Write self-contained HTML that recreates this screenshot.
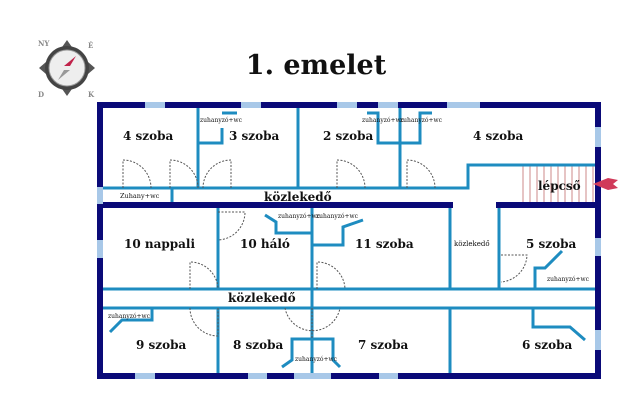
<!DOCTYPE html>
<html><head><meta charset="utf-8"><style>
html,body{margin:0;padding:0;background:#fff;width:640px;height:406px;overflow:hidden}
text{font-family:"DejaVu Serif","Liberation Serif",serif;font-weight:bold;fill:#111}
.s{font-size:6px;font-weight:normal}
</style></head><body>
<svg width="640" height="406" viewBox="0 0 640 406" xmlns="http://www.w3.org/2000/svg">
<text x="316" y="74" font-size="27" text-anchor="middle">1. emelet</text>
<!-- compass -->
<g>
<polygon points="67,40 74,50 95,68 74,86 67,96 60,86 39,68 60,50" fill="#555"/>
<circle cx="67" cy="68" r="22" fill="#444"/>
<circle cx="67" cy="68" r="18" fill="#eee" stroke="#999"/>
<polygon points="76,56 70,66 64,66" fill="#c0224a"/>
<polygon points="58,80 64,70 70,70" fill="#999"/>
<text x="38" y="46" font-size="7" style="fill:#888">NY</text>
<text x="88" y="48" font-size="7" style="fill:#888">É</text>
<text x="38" y="97" font-size="7" style="fill:#888">D</text>
<text x="88" y="97" font-size="7" style="fill:#888">K</text>
</g>
<!-- stairs -->
<g stroke="#c88" stroke-width="1">
<line x1="523" y1="166" x2="523" y2="204"/><line x1="530" y1="166" x2="530" y2="204"/><line x1="537" y1="166" x2="537" y2="204"/><line x1="544" y1="166" x2="544" y2="204"/><line x1="551" y1="166" x2="551" y2="204"/><line x1="558" y1="166" x2="558" y2="204"/><line x1="565" y1="166" x2="565" y2="204"/><line x1="572" y1="166" x2="572" y2="204"/><line x1="579" y1="166" x2="579" y2="204"/><line x1="586" y1="166" x2="586" y2="204"/><line x1="593" y1="166" x2="593" y2="204"/>
</g>
<!-- blue walls -->
<g stroke="#1e8cc0" stroke-width="3" fill="none">
<polyline points="100,188 468,188 468,165 600,165"/>
<line x1="198" y1="103" x2="198" y2="188"/>
<line x1="298" y1="103" x2="298" y2="188"/>
<line x1="400" y1="103" x2="400" y2="188"/>
<line x1="172" y1="188" x2="172" y2="205"/>
<polyline points="198,143 222,143 222,128"/><polyline points="222,113 237,113"/>
<polyline points="367,113 378,113 378,143 420,143 420,113 432,113"/>
<line x1="218" y1="205" x2="218" y2="290"/>
<line x1="218" y1="308" x2="218" y2="376"/>
<line x1="312" y1="205" x2="312" y2="376"/>
<line x1="450" y1="205" x2="450" y2="290"/>
<line x1="450" y1="308" x2="450" y2="376"/>
<line x1="499" y1="205" x2="499" y2="290"/>
<line x1="100" y1="289" x2="600" y2="289"/>
<line x1="100" y1="308" x2="600" y2="308"/>
<polyline points="535,290 535,268 545,268 562,251"/>
<polyline points="152,308 152,320 122,320 110,332"/>
<polyline points="533,308 533,327 570,327 585,340"/>
<polyline points="282,367 292,360 292,339 333,339 333,360 340,367"/>
<polyline points="265,215 276,222 276,233 312,233"/>
<polyline points="312,245 343,245 343,227 363,220"/>
</g>
<!-- doors -->
<g stroke="#555" stroke-width="1" fill="none" stroke-dasharray="2,1.5">
<path d="M123,188 V160 A28,28 0 0 1 151,188"/>
<path d="M170,188 V160 A28,28 0 0 1 198,188"/>
<path d="M231,188 V160 A28,28 0 0 0 203,188"/>
<path d="M337,188 V160 A28,28 0 0 1 365,188"/>
<path d="M407,188 V160 A28,28 0 0 1 435,188"/>
<path d="M218,212 H245 A28,28 0 0 1 218,240"/>
<path d="M190,289 V262 A28,28 0 0 1 218,289"/>
<path d="M317,289 V262 A28,28 0 0 1 345,289"/>
<path d="M190,308 A28,28 0 0 0 218,336 V308"/>
<path d="M285,308 A28,28 0 0 0 340,308"/>
<path d="M312,308 V338"/>
<path d="M501,255 H527 A28,28 0 0 1 501,282"/>
</g>
<!-- outer walls -->
<g stroke="#0a0a78" stroke-width="6" fill="none" stroke-linecap="square">
<rect x="100" y="105" width="498" height="271"/>
<line x1="100" y1="205" x2="450" y2="205"/>
<line x1="499" y1="205" x2="598" y2="205"/>
</g>
<g stroke="#a8c8e8" stroke-width="6">
<line x1="145" y1="105" x2="165" y2="105"/><line x1="241" y1="105" x2="261" y2="105"/><line x1="337" y1="105" x2="357" y2="105"/><line x1="378" y1="105" x2="398" y2="105"/><line x1="447" y1="105" x2="480" y2="105"/>
<line x1="598" y1="127" x2="598" y2="147"/><line x1="598" y1="238" x2="598" y2="256"/><line x1="598" y1="330" x2="598" y2="350"/>
<line x1="100" y1="187" x2="100" y2="204"/><line x1="100" y1="240" x2="100" y2="258"/>
<line x1="135" y1="376" x2="155" y2="376"/><line x1="248" y1="376" x2="267" y2="376"/><line x1="294" y1="376" x2="331" y2="376"/><line x1="379" y1="376" x2="398" y2="376"/>
</g>
<polygon points="593,184 608,178 618,180 613,184 618,188 608,190" fill="#d03a5a"/>
<!-- labels -->
<g font-size="12">
<text x="123" y="140">4 szoba</text><text x="229" y="140">3 szoba</text><text x="323" y="140">2 szoba</text><text x="473" y="140">4 szoba</text>
<text x="264" y="201">közlekedő</text><text x="538" y="190">lépcső</text>
<text x="124" y="248">10 nappali</text><text x="240" y="248">10 háló</text><text x="355" y="248">11 szoba</text><text x="526" y="248">5 szoba</text>
<text x="228" y="302">közlekedő</text>
<text x="136" y="349">9 szoba</text><text x="233" y="349">8 szoba</text><text x="358" y="349">7 szoba</text><text x="522" y="349">6 szoba</text>
</g>
<text x="454" y="246" font-size="7" style="font-weight:normal">közlekedő</text>
<text x="120" y="198" font-size="6.5" style="font-weight:normal">Zuhany+wc</text>
<g class="s">
<text x="200" y="122" class="s">zuhanyzó+wc</text>
<text x="362" y="122" class="s">zuhanyzó+wc</text><text x="400" y="122" class="s">zuhanyzó+wc</text>
<text x="278" y="218" class="s">zuhanyzó+wc</text><text x="316" y="218" class="s">zuhanyzó+wc</text>
<text x="547" y="281" class="s">zuhanyzó+wc</text>
<text x="108" y="318" class="s">zuhanyzó+wc</text>
<text x="295" y="361" class="s">zuhanyzó+wc</text>
</g>
</svg>
</body></html>
